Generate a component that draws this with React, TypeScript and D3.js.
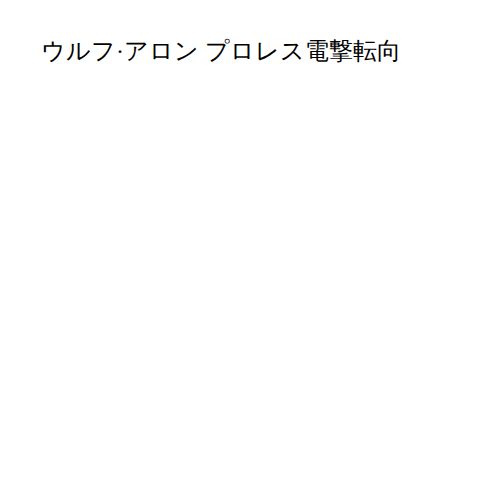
import React from "react";
import * as d3 from "d3";

const titleLines: string[] = ["ウルフ·アロン プロレス電撃転向"];

export default function App() {
  const width = 500;
  const height = 500;
  const y = d3.scaleBand<number>().domain(titleLines.map((_, i) => i)).range([30, 60]);
  return (
    <svg width={width - 16} height={height - 16} style={{ display: "block" }}>
      {titleLines.map((t, i) => (
        <text key={i} x={33} y={(y(i) ?? 0) + 21} fontSize={24} fill="#000">
          {t}
        </text>
      ))}
    </svg>
  );
}
